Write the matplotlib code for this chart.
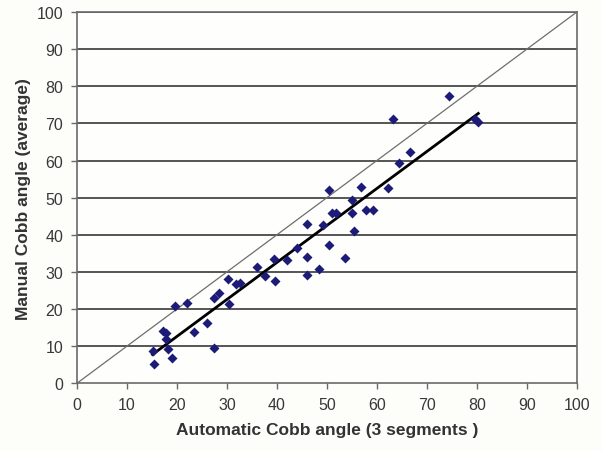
import matplotlib
matplotlib.use("Agg")
import matplotlib.pyplot as plt
import numpy as np

plt.rcParams['font.family'] = ['Liberation Sans', 'DejaVu Sans']

# automatic (x) vs manual (y) Cobb angles
auto_angle = [15.3, 15.1, 17.3, 17.9, 17.9, 18.3, 19.0, 19.7, 22.1, 23.5,
              26.1, 27.4, 27.4, 28.4, 30.5, 30.2, 31.9, 32.6, 36.1, 37.6,
              39.7, 39.5, 42.1, 44.1, 46.1, 46.1, 48.4, 46.1, 49.3, 50.4,
              53.6, 55.5, 50.5, 51.1, 51.8, 55.1, 55.1, 57.9, 59.3, 56.8,
              62.3, 64.4, 66.6, 63.2, 74.4, 79.6, 80.3]
manual_angle = [5.3, 8.7, 14.1, 13.5, 11.9, 9.2, 6.7, 20.8, 21.5, 13.9,
                16.1, 9.6, 22.9, 24.3, 21.3, 28.0, 26.7, 26.9, 31.3, 28.9,
                27.6, 33.4, 33.2, 36.3, 34.1, 29.2, 30.7, 43.0, 42.6, 37.3,
                33.7, 40.9, 52.0, 45.8, 45.8, 49.3, 45.8, 46.6, 46.6, 52.9,
                52.5, 59.3, 62.4, 71.2, 77.3, 71.3, 70.3]

x = np.array(auto_angle)
y = np.array(manual_angle)

fig = plt.figure(figsize=(6.02, 4.52), dpi=100)
fig.patch.set_facecolor('#fdfdfa')
ax = fig.add_axes([0.128, 0.150, 0.830, 0.821])
ax.set_facecolor('#fefefc')

ax.set_xlim(0, 100)
ax.set_ylim(0, 100)
ax.set_xticks(range(0, 101, 10))
ax.set_yticks(range(0, 101, 10))

# horizontal grid
for g in range(10, 101, 10):
    ax.axhline(g, color='#555555', linewidth=1.4, zorder=1)

# line of identity
ax.plot([0, 100], [0, 100], color='#6e6e6e', linewidth=0.9, zorder=2)

# regression line
k, b = np.polyfit(x, y, 1)
xs = np.array([x.min(), x.max()])
ax.plot(xs, k * xs + b, color='black', linewidth=2.0, zorder=3)

ax.scatter(x, y, marker='D', s=26, color='#1c1c78', zorder=4, linewidths=0)

for s in ax.spines.values():
    s.set_color('#6a6a6a')
    s.set_linewidth(1.2)

ax.tick_params(direction='out', length=4, width=1, color='#6a6a6a',
               labelsize=11.5, labelcolor='#383838', pad=6)

ax.set_xlabel('Automatic Cobb angle (3 segments )', fontsize=12.5,
              fontweight='bold', color='#333333', labelpad=7)
ax.set_ylabel('Manual Cobb angle (average)', fontsize=12.5,
              fontweight='bold', color='#333333', labelpad=4)

fig.savefig('out.png', dpi=100, facecolor=fig.get_facecolor())
